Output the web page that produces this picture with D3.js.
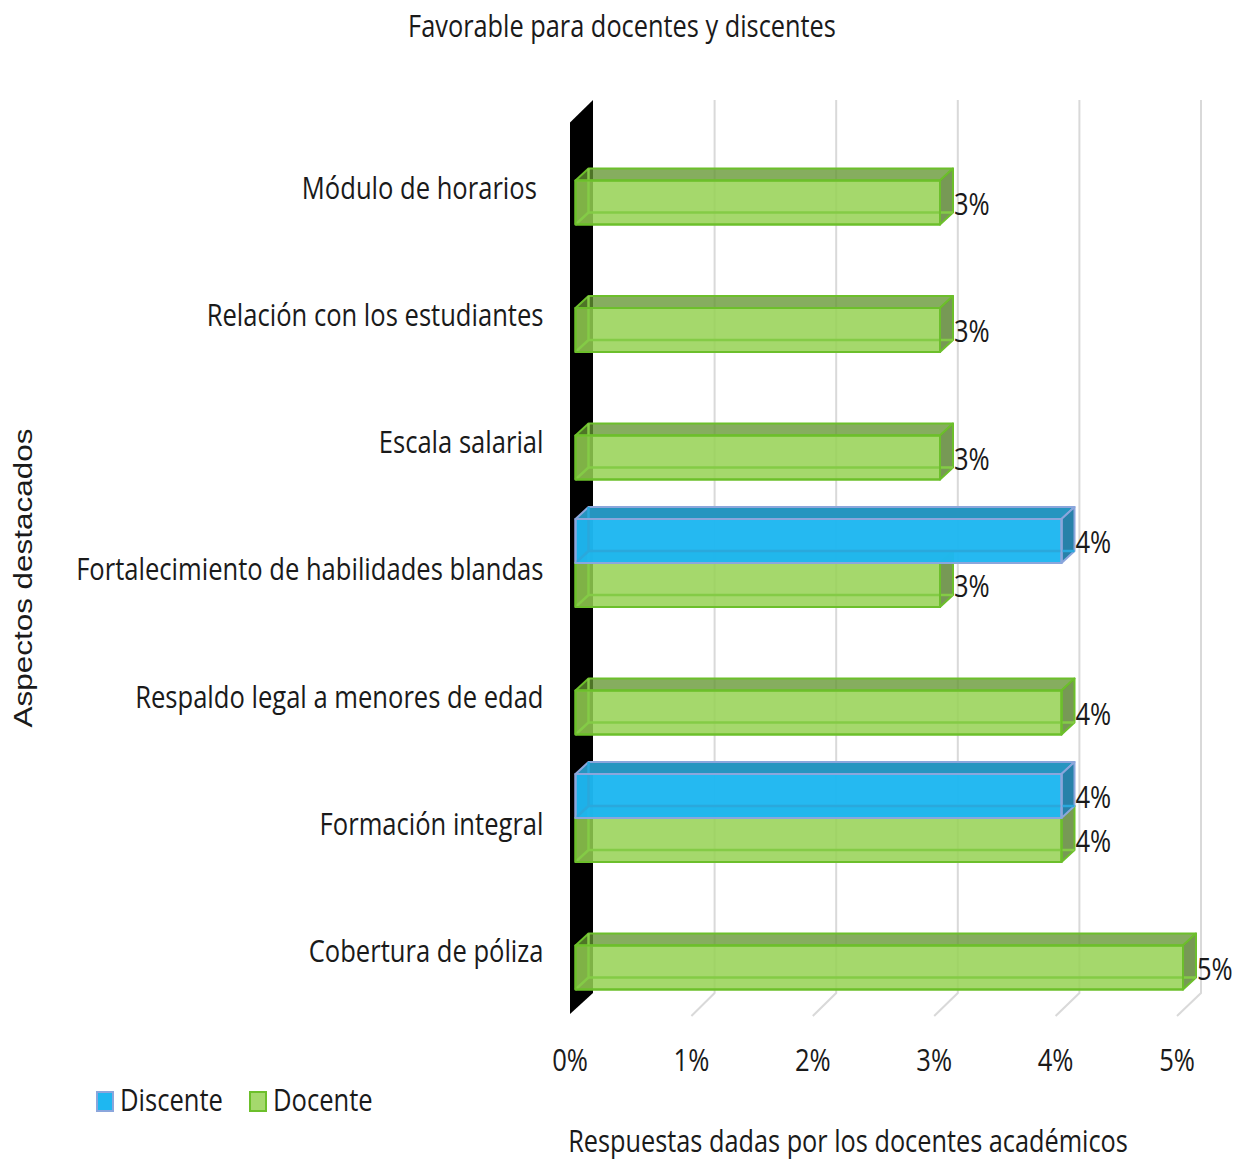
<!DOCTYPE html>
<html><head><meta charset="utf-8">
<script src="https://cdn.jsdelivr.net/npm/d3@7"></script>
<style>
html,body{margin:0;padding:0;background:#fff}
svg{display:block}
text{font-family:"Open Sans",sans-serif;fill:#1a1a1a;white-space:pre}
</style></head><body>
<svg id="c" width="1238" height="1159"></svg>
<script>
const categories=["Módulo de horarios ","Relación con los estudiantes","Escala salarial","Fortalecimiento de habilidades blandas","Respaldo legal a menores de edad","Formación integral","Cobertura de póliza"];
const seriesNames=["Discente","Docente"];
const discente=[null,null,null,4,null,4,null];
const docente=[3,3,3,3,4,4,5];
const xTicks=[0,1,2,3,4,5];
const chartTitle="Favorable para docentes y discentes";
const xTitle="Respuestas dadas por los docentes académicos";
const yTitle="Aspectos destacados";

const svg=d3.select("#c");
const depthX=13,depthY=12,fs=31,sx=0.825;
const xBar=d3.scaleLinear().domain([0,5]).range([575.5,1183]);
const xBack=d3.scaleLinear().domain([0,5]).range([593,1201]);
const xFloor=d3.scaleLinear().domain([0,5]).range([570,1177]);
const yBand=d3.scaleBand().domain(categories).range([116.75,1009.25]);
const yLabel=d3.scalePoint().domain(categories).range([198.5,962]);
const ySeries=d3.scaleBand().domain(seriesNames).range([-44,44]);
const wall={top:100,bottom:993,frontTop:122.5,frontBottom:1014};
const styles={
 Discente:{front:"rgba(30,183,241,.97)",stroke:"#8ba6dc",top:"#2695c0",side:"#2781a9",inner:"#2aa8dc"},
 Docente:{front:"rgba(149,209,82,.85)",stroke:"#6cbf2b",top:"rgba(100,150,50,.78)",side:"rgba(95,135,55,.85)",inner:"#84cb46"}
};
const pts=a=>a.map(p=>p.join(",")).join(" ");
// condensed text: the reference face is narrower than any installed one
function label(g,x,y,str,anchor,scale=sx){
 return g.append("text").attr("transform",`translate(${x},${y}) scale(${scale},1)`)
  .attr("text-anchor",anchor||"start").attr("font-size",fs).text(str);
}

const grid=svg.append("g").attr("fill","none").attr("stroke","#d9d9d9").attr("stroke-width",2);
grid.selectAll("polyline").data(xTicks.slice(1)).join("polyline")
 .attr("points",d=>pts([[xBack(d),wall.top],[xBack(d),wall.bottom],[xFloor(d),wall.frontBottom+2]]));
svg.append("polygon").attr("fill","#000").attr("points",pts([[570,wall.frontTop],[xBack(0),wall.top],[xBack(0),wall.bottom],[570,wall.frontBottom]]));

function bar(g,cat,val,name){
 const s=styles[name],x0=xBar(0),x1=xBar(val),
  y0=yBand(cat)+yBand.bandwidth()/2+ySeries(name),y1=y0+ySeries.bandwidth();
 const b=g.append("g").attr("stroke-linejoin","round");
 const poly=(p,f,sw=2,st=s.stroke)=>b.append("polygon").attr("points",pts(p)).attr("fill",f).attr("stroke",st).attr("stroke-width",sw);
 poly([[x0,y0],[x0+depthX,y0-depthY],[x1+depthX,y0-depthY],[x1,y0]],s.top);
 poly([[x1,y0],[x1+depthX,y0-depthY],[x1+depthX,y1-depthY],[x1,y1]],s.side);
 poly([[x0,y0],[x1,y0],[x1,y1],[x0,y1]],s.front);
 b.append("path").attr("fill","none").attr("stroke",s.inner).attr("stroke-width",2.5)
  .attr("d",`M${x0},${y1}L${x0+depthX},${y1-depthY}L${x1+depthX},${y1-depthY}M${x0+depthX},${y0-depthY}L${x0+depthX},${y1-depthY}`);
 b.append("polygon").attr("points",pts([[x0,y0],[x1,y0],[x1,y1],[x0,y1]])).attr("fill","none").attr("stroke",s.stroke).attr("stroke-width",2);
}
const bars=svg.append("g");
categories.forEach((c,i)=>{ if(docente[i]!=null) bar(bars,c,docente[i],"Docente"); });
categories.forEach((c,i)=>{ if(discente[i]!=null) bar(bars,c,discente[i],"Discente"); });

const lab=svg.append("g");
function dataLabel(c,v,name){
 label(lab,xBar(v)+depthX+1,yBand(c)+yBand.bandwidth()/2+ySeries(name)+ySeries.bandwidth()/2+12,v+"%");
}
categories.forEach((c,i)=>{ if(docente[i]!=null) dataLabel(c,docente[i],"Docente"); if(discente[i]!=null) dataLabel(c,discente[i],"Discente"); });

const catG=svg.append("g");
categories.forEach(c=>label(catG,543.5,yLabel(c),c,"end"));
const tickG=svg.append("g");
xTicks.forEach(t=>label(tickG,xFloor(t),1071,t+"%","middle"));
label(svg,622,37,chartTitle,"middle",0.818);
label(svg,848,1152,xTitle,"middle",0.816);
svg.append("text").attr("transform","translate(32,578) rotate(-90) scale(1.21,1)").attr("text-anchor","middle")
 .style("font-family","'Liberation Sans',sans-serif").attr("font-size",26).text(yTitle);
const legendX=[96,249];
seriesNames.forEach((d,i)=>{
 const g=svg.append("g").attr("transform",`translate(${legendX[i]},0)`);
 g.append("rect").attr("x",1).attr("y",1092).attr("width",16).attr("height",19)
  .attr("fill",d==="Discente"?"#1eb7f1":"#a5d96d").attr("stroke",styles[d].stroke).attr("stroke-width",2);
 label(g,24,1111,d);
});
</script>
</body></html>
